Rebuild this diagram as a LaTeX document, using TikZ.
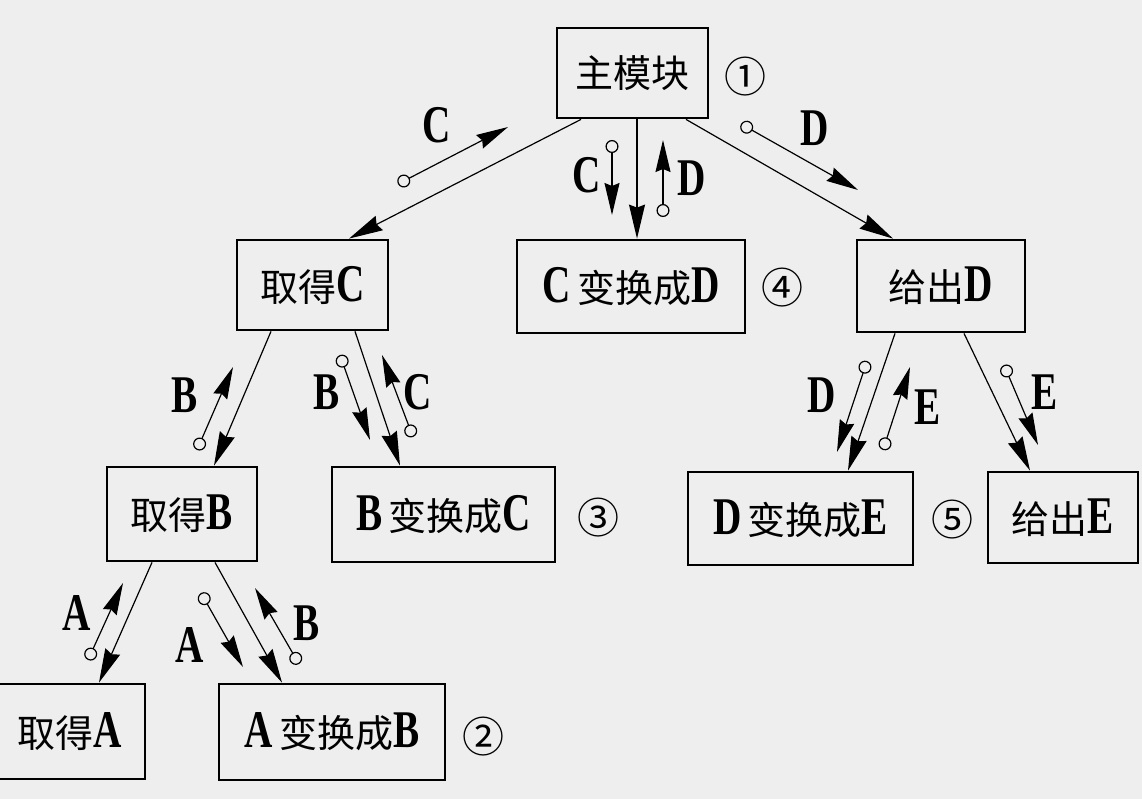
\documentclass[tikz,border=0pt]{standalone}
\usepackage{fontspec}
\setmainfont{Liberation Serif}
\newfontfamily\cjk{Noto Sans CJK SC}
\newfontfamily\ltr{Liberation Serif}[FakeStretch=0.74]
\usetikzlibrary{arrows.meta}
\definecolor{paper}{RGB}{238,238,238}
\newcommand\lt[1]{{\ltr\bfseries\fontsize{53}{53}\selectfont #1}}
\tikzset{
  modbox/.style={draw, line width=2.8pt, inner sep=0pt, font=\cjk\fontsize{38}{40}\selectfont},
  bighead/.tip={Stealth[length=34pt 0 0, width=16pt 0 0, inset=3pt]},
  smallhead/.tip={Stealth[length=32pt 0 0, width=15pt 0 0, inset=3pt]},
  link/.style={line width=1.2pt, -bighead},
  couple/.style={line width=1.2pt, {Circle[open,length=13pt 0 0,width=13pt 0 0]}-smallhead},
  tag/.style={font=\ltr\bfseries\fontsize{53}{53}\selectfont, inner sep=0pt},
  num/.style={font=\cjk\fontsize{42}{42}\selectfont, inner sep=0pt}
}
\begin{document}
\begin{tikzpicture}[x=1pt, y=-1pt]

    \fill[paper] (0,0) rectangle (1142,799);
    \useasboundingbox (0,0) rectangle (1142,799);

    % Nodes
    \node at (632.5,73) (main) [modbox, minimum width=151, minimum height=90] {主模块};
    \node at (312.5,285) (getC) [modbox, minimum width=151, minimum height=90] {取得\lt{C}};
    \node at (631,286.5) (convCD) [modbox, minimum width=228, minimum height=93] {\lt{C}\,变换成\lt{D}};
    \node at (941,286) (giveD) [modbox, minimum width=168, minimum height=92] {给出\lt{D}};
    \node at (182,514) (getB) [modbox, minimum width=150, minimum height=94] {取得\lt{B}};
    \node at (443.5,514.5) (convBC) [modbox, minimum width=223, minimum height=95] {\lt{B}\,变换成\lt{C}};
    \node at (800.5,518.5) (convDE) [modbox, minimum width=225, minimum height=93] {\lt{D}\,变换成\lt{E}};
    \node at (1063,517.5) (giveE) [modbox, minimum width=150, minimum height=91] {给出\lt{E}};
    \node at (70,731.5) (getA) [modbox, minimum width=150, minimum height=95] {取得\lt{A}};
    \node at (332,732) (convAB) [modbox, minimum width=226, minimum height=96] {\lt{A}\,变换成\lt{B}};

    % Step numbers
    \node at (745,77) (n1) [num] {①};
    \node at (483,737) (n2) [num] {②};
    \node at (598,518) (n3) [num] {③};
    \node at (782,288) (n4) [num] {④};
    \node at (952,520) (n5) [num] {⑤};

    % Calls
    \draw[link] ([xshift=-51.5pt]main.south) -- ([xshift=36.5pt]getC.north);
    \draw[link] ([xshift=4.5pt]main.south) -- ([xshift=6pt]convCD.north);
    \draw[link] ([xshift=53.5pt]main.south) -- ([xshift=-48pt]giveD.north);
    \draw[link] ([xshift=-41.5pt]getC.south) -- ([xshift=32pt]getB.north);
    \draw[link] ([xshift=42.5pt]getC.south) -- ([xshift=-43.5pt]convBC.north);
    \draw[link] ([xshift=-30pt]getB.south) -- ([xshift=29pt]getA.north);
    \draw[link] ([xshift=33pt]getB.south) -- ([xshift=-50pt]convAB.north);
    \draw[link] ([xshift=-46pt]giveD.south) -- ([xshift=47.5pt]convDE.north);
    \draw[link] ([xshift=23pt]giveD.south) -- ([xshift=-33pt]giveE.north);

    % Data couples
    \draw[couple] (398,184) -- (508,127);
    \node at (437,125) (cC1) [tag] {C};
    \draw[couple] (612,140) -- (612,215);
    \node at (587,175) (cC2) [tag] {C};
    \draw[couple] (663,217) -- (663,140);
    \node at (692,178) (cD1) [tag] {D};
    \draw[couple] (741,124) -- (858,190);
    \node at (815,128) (cD2) [tag] {D};

    \draw[couple] (197,450) -- (233,367);
    \node at (185,395) (cB1) [tag] {B};
    \draw[couple] (340,355) -- (370,440);
    \node at (327,392) (cB2) [tag] {B};
    \draw[couple] (413,437) -- (382,355);
    \node at (418,392) (cC3) [tag] {C};

    \draw[couple] (88,660) -- (123,583);
    \node at (77,613) (cA1) [tag] {A};
    \draw[couple] (201,593) -- (243,667);
    \node at (190,645) (cA2) [tag] {A};
    \draw[couple] (299,664) -- (255,588);
    \node at (307,623) (cB3) [tag] {B};

    \draw[couple] (867,361) -- (837,452);
    \node at (822,395) (cD3) [tag] {D};
    \draw[couple] (883,450) -- (910,367);
    \node at (928,407) (cE1) [tag] {E};
    \draw[couple] (1004,365) -- (1038,445);
    \node at (1045,392) (cE2) [tag] {E};

\end{tikzpicture}
\end{document}
